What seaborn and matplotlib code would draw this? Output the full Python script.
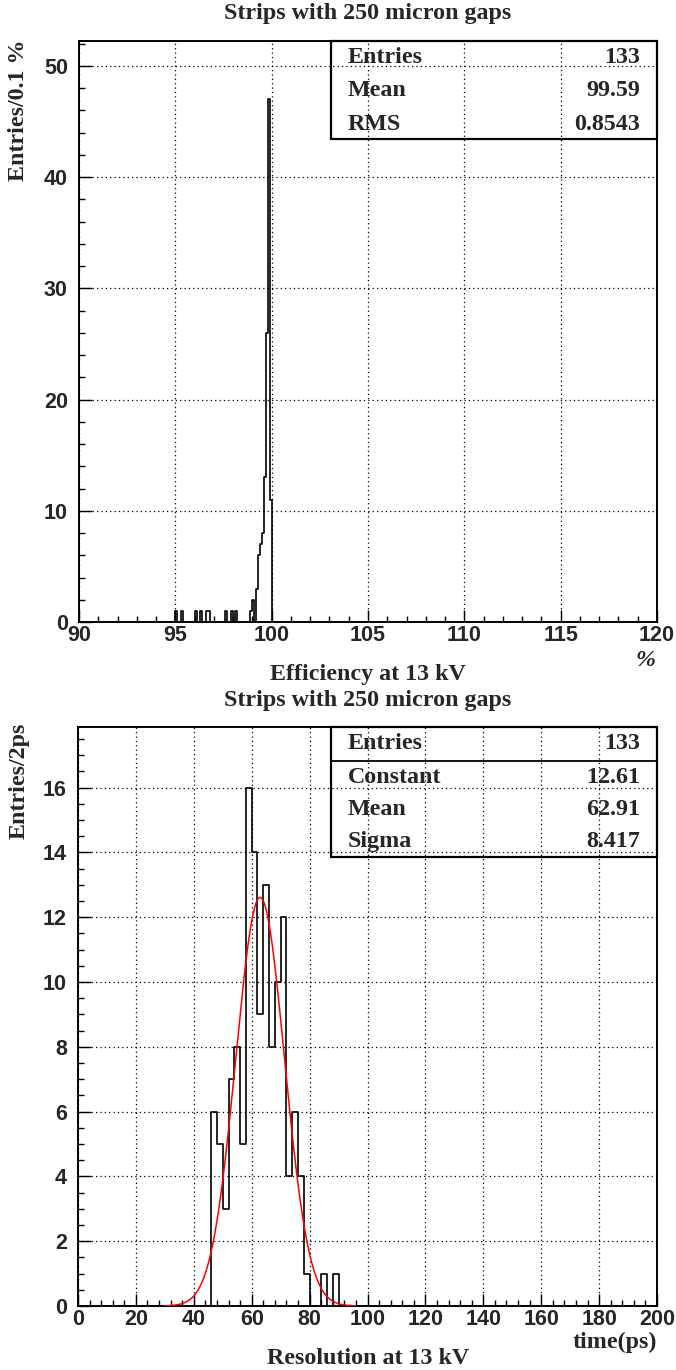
import numpy as np
import pandas as pd
import matplotlib
matplotlib.use("Agg")
import matplotlib.pyplot as plt
import seaborn as sns
from matplotlib.ticker import MultipleLocator
from matplotlib.patches import Rectangle

# === Efficiency histogram (bin width 0.1 %) ===
eff_low_edges = [95.0, 95.3, 96.0, 96.3, 96.6, 96.7, 97.6, 97.9, 98.1,
                 98.9, 99.0, 99.2, 99.3, 99.4, 99.5, 99.6, 99.7, 99.8, 99.9]
eff_counts = [1, 1, 1, 1, 1, 1, 1, 1, 1,
              1, 2, 3, 6, 7, 8, 13, 26, 47, 11]
eff_stats = [("Entries", "133"), ("Mean", "99.59"), ("RMS", "0.8543")]

# === Resolution histogram (bin width 2 ps) ===
res_low_edges = [46, 48, 50, 52, 54, 56, 58, 60, 62, 64, 66, 68, 70, 72, 74, 76, 78, 84, 88]
res_counts = [6, 5, 3, 7, 8, 5, 16, 14, 9, 13, 8, 10, 12, 4, 6, 4, 1, 1, 1]
fit_const, fit_mean, fit_sigma = 12.61, 62.91, 8.417
res_stats = [("Entries", "133"), ("Constant", "12.61"), ("Mean", "62.91"), ("Sigma", "8.417")]

TITLE = "Strips with 250 micron gaps"

sns.set_style("white")
plt.rcParams['font.family'] = ['Liberation Sans', 'DejaVu Sans']
SERIF = ['Liberation Serif', 'DejaVu Serif']
TXT = 17.3

W, H = 676, 1370
fig = plt.figure(figsize=(W / 100, H / 100), dpi=100)


def px_axes(x0, y0, x1, y1):
    return fig.add_axes([x0 / W, 1 - y1 / H, (x1 - x0) / W, (y1 - y0) / H])


def style_axes(ax, xmaj, xmin, ymaj, ymin):
    ax.xaxis.set_major_locator(MultipleLocator(xmaj))
    ax.xaxis.set_minor_locator(MultipleLocator(xmin))
    ax.yaxis.set_major_locator(MultipleLocator(ymaj))
    ax.yaxis.set_minor_locator(MultipleLocator(ymin))
    ax.tick_params(which='both', direction='in', top=False, right=False,
                   bottom=True, left=True,
                   labelsize=15.5, width=1, color='black')
    ax.tick_params(axis='x', pad=2)
    ax.tick_params(axis='y', pad=8)
    ax.tick_params(which='major', length=9)
    ax.tick_params(which='minor', length=4.5)
    for lab in ax.get_xticklabels() + ax.get_yticklabels():
        lab.set_fontweight('bold')
    ax.grid(True, which='major', linestyle=(0, (1, 2.5)), color='black', linewidth=0.9)
    for s in ax.spines.values():
        s.set_visible(True)
        s.set_color('black')
        s.set_linewidth(1.4)
    ax.set_xlabel("")
    ax.set_ylabel("")


def stats_box(ax, rows, x0, y0, rows_y, sep=None):
    ax.add_patch(Rectangle((x0, y0), 1 - x0, 1 - y0, transform=ax.transAxes,
                           fill=False, edgecolor='black', linewidth=1.6, zorder=5,
                           clip_on=False))
    if sep is not None:
        ax.plot([x0, 1], [sep, sep], transform=ax.transAxes, color='black',
                linewidth=1.3, zorder=5)
    for (name, val), yc in zip(rows, rows_y):
        ax.text(x0 + 0.029, yc, name, transform=ax.transAxes, ha='left', va='center',
                fontsize=TXT, fontweight='bold', family=SERIF, zorder=6)
        ax.text(0.971, yc, val, transform=ax.transAxes, ha='right', va='center',
                fontsize=TXT, fontweight='bold', family=SERIF, zorder=6)


# === Top: efficiency ===
ax1 = px_axes(79, 41, 657, 622)
eff_df = pd.DataFrame({"eff": np.array(eff_low_edges) + 0.05, "n": eff_counts})
sns.histplot(data=eff_df, x="eff", weights="n", binwidth=0.1, binrange=(90, 120),
             element="step", fill=False, color="black", linewidth=1.2, ax=ax1)
ax1.set_xlim(90, 120)
ax1.set_ylim(0, 52.25)
style_axes(ax1, 5, 1, 10, 2)
stats_box(ax1, eff_stats, 0.436, 0.831, [0.972, 0.914, 0.857])

# === Bottom: resolution ===
ax2 = px_axes(78, 727, 657, 1306)
res_df = pd.DataFrame({"t": np.array(res_low_edges) + 1.0, "n": res_counts})
sns.histplot(data=res_df, x="t", weights="n", binwidth=2, binrange=(0, 200),
             element="step", fill=False, color="black", linewidth=1.2, ax=ax2)
fit_x = np.linspace(30, 96, 400)
fit_y = fit_const * np.exp(-0.5 * ((fit_x - fit_mean) / fit_sigma) ** 2)
sns.lineplot(x=fit_x, y=fit_y, color='red', linewidth=1.1, ax=ax2, zorder=4)
ax2.set_xlim(0, 200)
ax2.set_ylim(0, 17.87)
style_axes(ax2, 20, 4, 2, 0.5)
stats_box(ax2, res_stats, 0.437, 0.775, [0.971, 0.913, 0.858, 0.803], sep=0.941)


# === Titles and axis labels ===
def ftext(x, y, s, **kw):
    fig.text(x / W, 1 - y / H, s, family=SERIF, fontweight='bold', **kw)


ftext(368, 14, TITLE, ha='center', va='center', fontsize=TXT)
ftext(368, 700, TITLE, ha='center', va='center', fontsize=TXT)
ftext(368, 674, "Efficiency at 13 kV", ha='center', va='center', fontsize=TXT)
ftext(368, 1358, "Resolution at 13 kV", ha='center', va='center', fontsize=TXT)
ftext(645, 661, "%", ha='center', va='center', fontsize=TXT, style='italic')
ftext(657, 1342, "time(ps)", ha='right', va='center', fontsize=TXT)
ftext(19, 110, "Entries/0.1 %", ha='center', va='center', fontsize=TXT, rotation=90)
ftext(19, 781, "Entries/2ps", ha='center', va='center', fontsize=TXT, rotation=90)

fig.savefig("out.png", dpi=100, facecolor='white')
